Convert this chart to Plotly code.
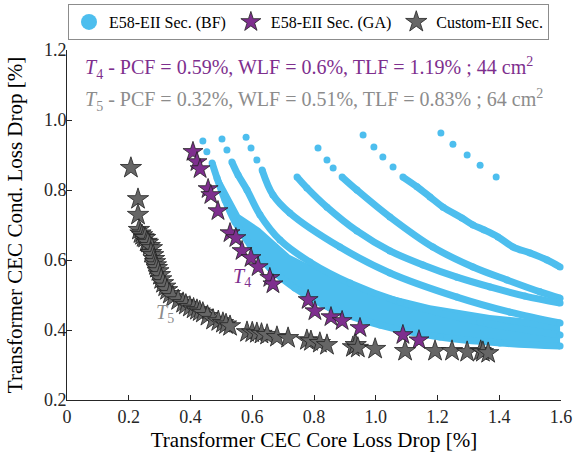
import plotly.graph_objects as go

BLUE = "#4DBEEE"
PURPLE = "#7E2F8E"
GRAY = "#666666"
FONT = "Liberation Serif"

# ---- E58-EII Sec. (BF) cloud: arcs ----
arcT_x = [1.211, 1.250, 1.296, 1.338, 1.390]
arcT_y = [0.963, 0.931, 0.900, 0.871, 0.837]

arc2_dot_x = [0.959, 0.994, 1.023, 1.056]
arc2_dot_y = [0.957, 0.923, 0.894, 0.866]
arc2_x = [1.088, 1.134, 1.176, 1.218, 1.279, 1.315, 1.351, 1.396, 1.445, 1.500, 1.555, 1.597]
arc2_y = [0.837, 0.809, 0.780, 0.751, 0.720, 0.700, 0.686, 0.666, 0.637, 0.620, 0.600, 0.580]

arc3_dot_x = [0.813, 0.842, 0.862]
arc3_dot_y = [0.920, 0.886, 0.863]
arc3_x = [0.891, 0.939, 1.046, 1.185, 1.315, 1.425, 1.532, 1.597]
arc3_y = [0.837, 0.800, 0.723, 0.637, 0.580, 0.543, 0.509, 0.491]

arc4_x = [0.745, 0.777, 0.842, 0.939, 1.046, 1.153, 1.263, 1.370, 1.483, 1.597]
arc4_y = [0.837, 0.806, 0.751, 0.683, 0.626, 0.586, 0.551, 0.523, 0.497, 0.477]

arc5_dot_x = [0.580, 0.596, 0.615]
arc5_dot_y = [0.951, 0.920, 0.886]
arc5_x = [0.632, 0.667, 0.722, 0.884, 1.046, 1.263, 1.435, 1.597]
arc5_y = [0.857, 0.786, 0.734, 0.637, 0.563, 0.494, 0.451, 0.420]

arc6_dot_x = [0.502, 0.518]
arc6_dot_y = [0.946, 0.914]
arc6_x = [0.534, 0.554, 0.583, 0.625, 0.690, 0.787, 0.917, 1.079, 1.338, 1.597]
arc6_y = [0.880, 0.843, 0.800, 0.729, 0.657, 0.594, 0.534, 0.480, 0.423, 0.386]

arc7_dot_x = [0.440, 0.453]
arc7_dot_y = [0.940, 0.909]
arc7_x = [0.470, 0.486, 0.512, 0.544, 0.593, 0.657, 0.738, 0.852, 1.014, 1.208, 1.402, 1.597]
arc7_y = [0.877, 0.834, 0.771, 0.709, 0.643, 0.577, 0.520, 0.463, 0.414, 0.380, 0.363, 0.354]

# upper edge of the dense part of the cloud
band_top_x = [0.560, 0.625, 0.722, 0.852, 1.014, 1.176, 1.370, 1.597]
band_top_y = [0.729, 0.691, 0.614, 0.557, 0.506, 0.471, 0.443, 0.423]

# ---- E58-EII Sec. (GA) ----
ga_x = [0.408, 0.421, 0.431, 0.457, 0.466, 0.489, 0.528, 0.547, 0.567, 0.596,
        0.619, 0.657, 0.667, 0.781, 0.803, 0.855, 0.891, 0.949, 1.088, 1.140]
ga_y = [0.909, 0.880, 0.860, 0.803, 0.786, 0.740, 0.677, 0.663, 0.626, 0.606,
        0.580, 0.549, 0.531, 0.486, 0.454, 0.437, 0.426, 0.406, 0.386, 0.371]

# ---- Custom-EII Sec. ----
cu_x = [0.207, 0.230, 0.230, 0.233, 0.238, 0.243, 0.248, 0.253, 0.258, 0.262,
        0.268, 0.275, 0.272, 0.279, 0.282, 0.285, 0.288, 0.291, 0.296, 0.301,
        0.305, 0.311, 0.318, 0.324, 0.333, 0.343, 0.360, 0.376, 0.385, 0.398,
        0.410, 0.421, 0.430, 0.440, 0.455, 0.473, 0.490, 0.505, 0.515, 0.528,
        0.583, 0.600, 0.615, 0.630, 0.648, 0.680, 0.716, 0.777, 0.790, 0.819,
        0.842, 0.926, 0.935, 0.942, 0.998, 1.095, 1.192, 1.247, 1.296, 1.340,
        1.347, 1.364]
cu_y = [0.863, 0.774, 0.729, 0.686, 0.676, 0.671, 0.665, 0.663, 0.652, 0.649,
        0.640, 0.634, 0.620, 0.614, 0.603, 0.594, 0.585, 0.577, 0.568, 0.557,
        0.545, 0.534, 0.524, 0.514, 0.503, 0.494, 0.485, 0.477, 0.472, 0.466,
        0.461, 0.457, 0.453, 0.449, 0.440, 0.429, 0.425, 0.420, 0.416, 0.411,
        0.394, 0.393, 0.391, 0.389, 0.386, 0.380, 0.377, 0.371, 0.368, 0.363,
        0.357, 0.351, 0.357, 0.349, 0.346, 0.340, 0.340, 0.340, 0.337, 0.340,
        0.337, 0.334]

x_ticks = [0, 0.2, 0.4, 0.6, 0.8, 1.0, 1.2, 1.4, 1.6]
x_tick_text = ["0", "0.2", "0.4", "0.6", "0.8", "1.0", "1.2", "1.4", "1.6"]
y_ticks = [0.2, 0.4, 0.6, 0.8, 1.0, 1.2]
y_tick_text = ["0.2", "0.4", "0.6", "0.8", "1.0", "1.2"]

fig = go.Figure()

# dense band
fig.add_trace(go.Scatter(
    x=arc7_x + band_top_x[::-1], y=arc7_y + band_top_y[::-1],
    mode="lines", fill="toself", fillcolor=BLUE, line=dict(width=0, color=BLUE),
    showlegend=False, hoverinfo="skip", legendgroup="bf"))

for ax_, ay_ in [(arc2_x, arc2_y), (arc3_x, arc3_y), (arc4_x, arc4_y),
                 (arc5_x, arc5_y), (arc6_x, arc6_y), (arc7_x, arc7_y)]:
    fig.add_trace(go.Scatter(
        x=ax_, y=ay_, mode="lines+markers",
        line=dict(color=BLUE, width=7, shape="spline"),
        marker=dict(color=BLUE, size=7), cliponaxis=False,
        showlegend=False, legendgroup="bf"))

for ax_, ay_ in [(arcT_x, arcT_y), (arc2_dot_x, arc2_dot_y), (arc3_dot_x, arc3_dot_y),
                 (arc5_dot_x, arc5_dot_y), (arc6_dot_x, arc6_dot_y), (arc7_dot_x, arc7_dot_y)]:
    fig.add_trace(go.Scatter(
        x=ax_, y=ay_, mode="markers", marker=dict(color=BLUE, size=7),
        cliponaxis=False, showlegend=False, legendgroup="bf"))

# legend entry for BF
fig.add_trace(go.Scatter(x=[None], y=[None], mode="markers",
                         marker=dict(color=BLUE, size=16),
                         name="E58-EII Sec. (BF)", legendgroup="bf"))

fig.add_trace(go.Scatter(
    x=ga_x, y=ga_y, mode="markers", name="E58-EII Sec. (GA)",
    marker=dict(symbol="star", size=15, color=PURPLE, line=dict(color="#222222", width=0.8)),
    cliponaxis=False))

fig.add_trace(go.Scatter(
    x=cu_x, y=cu_y, mode="markers", name="Custom-EII Sec.",
    marker=dict(symbol="star", size=16, color=GRAY, line=dict(color="#222222", width=0.8)),
    cliponaxis=False))

annots = [
    dict(x=0.0, y=0.949, xref="paper", yref="paper", xanchor="left", yanchor="middle",
         xshift=16, showarrow=False,
         text="<i>T</i><sub>4</sub> - PCF = 0.59%, WLF = 0.6%, TLF = 1.19% ; 44 cm<sup>2</sup>",
         font=dict(family=FONT, size=20, color=PURPLE)),
    dict(x=0.0, y=0.857, xref="paper", yref="paper", xanchor="left", yanchor="middle",
         xshift=16, showarrow=False,
         text="<i>T</i><sub>5</sub> - PCF = 0.32%, WLF = 0.51%, TLF = 0.83% ; 64 cm<sup>2</sup>",
         font=dict(family=FONT, size=20, color="#8C8C8C")),
    dict(x=0.567, y=0.551, xref="x", yref="y", showarrow=False,
         text="<i>T</i><sub>4</sub>", font=dict(family=FONT, size=20, color=PURPLE)),
    dict(x=0.317, y=0.447, xref="x", yref="y", showarrow=False,
         text="<i>T</i><sub>5</sub>", font=dict(family=FONT, size=20, color="#8C8C8C")),
]

fig.update_layout(
    width=576, height=452,
    margin=dict(l=67, r=15, t=50, b=52),
    paper_bgcolor="white", plot_bgcolor="white",
    font=dict(family=FONT, size=16, color="#262626"),
    showlegend=True,
    legend=dict(orientation="h", xref="container", yref="container",
                x=549 / 576, y=1 - 4 / 452, xanchor="right", yanchor="top",
                bordercolor="#8C8C8C", borderwidth=1, bgcolor="white",
                font=dict(family=FONT, size=16, color="#000000"),
                itemwidth=30, tracegroupgap=0, traceorder="normal"),
    annotations=annots,
    xaxis=dict(range=[0, 1.6], tickvals=x_ticks, ticktext=x_tick_text, automargin=False,
               showgrid=False, zeroline=False, showline=True, linecolor="#262626",
               linewidth=1, ticks="inside", ticklen=5, tickcolor="#262626",
               tickfont=dict(family=FONT, size=18, color="#262626"),
               title=dict(text="Transformer CEC Core Loss Drop [%]",
                          font=dict(family=FONT, size=21, color="#000000"))),
    yaxis=dict(range=[0.2, 1.2], tickvals=y_ticks, ticktext=y_tick_text, automargin=False,
               showgrid=False, zeroline=False, showline=True, linecolor="#262626",
               linewidth=1, ticks="inside", ticklen=5, tickcolor="#262626",
               ticklabelstandoff=-4,
               tickfont=dict(family=FONT, size=18, color="#262626"),
               title=dict(text="Transformer CEC Cond. Loss Drop [%]",
                          font=dict(family=FONT, size=21, color="#000000"))),
)

fig.write_html("out.html", post_script="document.body.style.margin='0px';",
               config={"displayModeBar": False})
